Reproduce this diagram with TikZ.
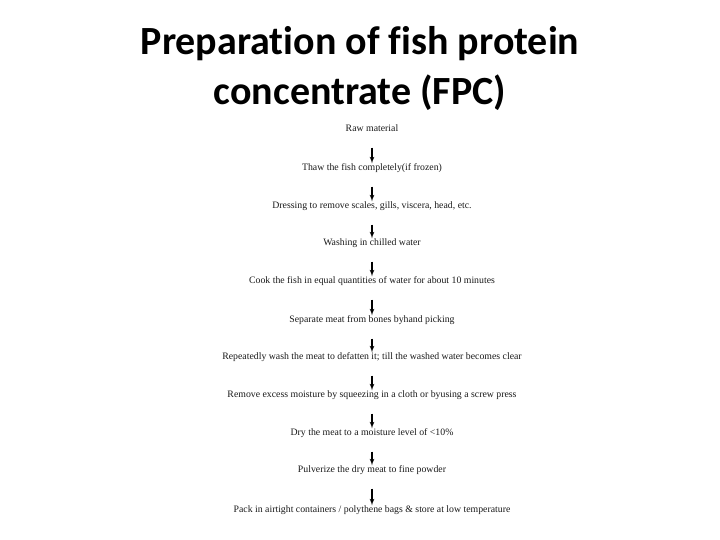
\documentclass[tikz,border=0pt]{standalone}
\usepackage{fontspec}
\setmainfont[Ligatures=NoCommon]{Liberation Serif}
\newfontfamily\headfont[Ligatures=NoCommon]{Carlito}
\usetikzlibrary{arrows}
\tikzstyle{arrow} = [line width=1.2pt,->,>=latex',shorten <=14pt]

\begin{document}
\begin{tikzpicture}
        [
            x=1pt,y=-1pt,
            stage/.style={inner sep=0pt, text height=7pt, text depth=2pt,
                          font=\fontsize{9.8}{11}\selectfont, text=black!90},
            heading/.style={font=\headfont\bfseries\fontsize{40}{48}\selectfont, anchor=base},
        ]
    \useasboundingbox (0,0) rectangle (720,540);

    % title
    \node[heading] (head1) at (360,55) {Preparation of fish protein};
    \node[heading] (head2) at (360,105) {concentrate (FPC)};

    % stages
    \node[stage] (raw)   at (372,129) {Raw material};
    \node[stage] (thaw)  at (372,168) {Thaw the fish completely(if frozen)};
    \node[stage] (dress) at (372,206) {Dressing to remove scales, gills, viscera, head, etc.};
    \node[stage] (wash)  at (372,243) {Washing in chilled water};
    \node[stage] (cook)  at (372,281) {Cook the fish in equal quantities of water for about 10 minutes};
    \node[stage] (sep)   at (372,320) {Separate meat from bones byhand picking};
    \node[stage] (defat) at (372,357) {Repeatedly wash the meat to defatten it; till the washed water becomes clear};
    \node[stage] (press) at (372,395) {Remove excess moisture by squeezing in a cloth or byusing a screw press};
    \node[stage] (dry)   at (372,433) {Dry the meat to a moisture level of <10\%};
    \node[stage] (pulv)  at (372,470) {Pulverize the dry meat to fine powder};
    \node[stage] (pack)  at (372,510) {Pack in airtight containers / polythene bags \& store at low temperature};

    % arrows
    \foreach \a/\b in {raw/thaw,thaw/dress,dress/wash,wash/cook,cook/sep,sep/defat,defat/press,press/dry,dry/pulv,pulv/pack}
        \draw[arrow] (\a) -- (\b);
    \end{tikzpicture}
\end{document}
